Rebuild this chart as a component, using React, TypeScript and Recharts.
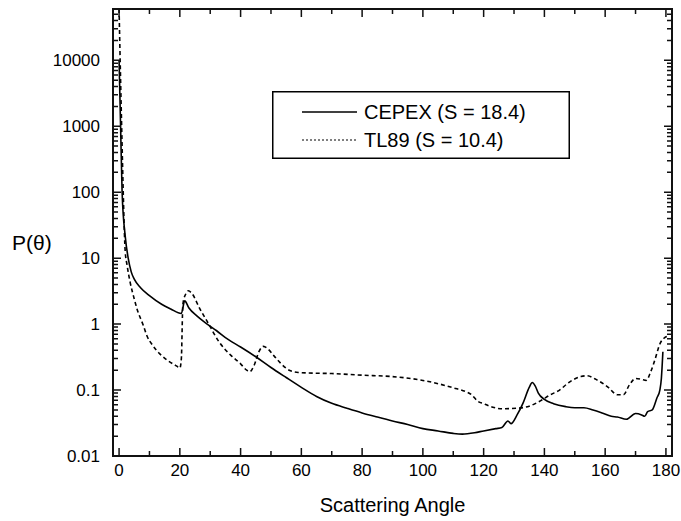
import React from 'react';
import { LineChart, Line, XAxis, YAxis, Legend } from 'recharts';

// CEPEX phase function (solid)
const cepexAngle = [0, 0.5, 1, 2, 3, 4, 5, 7, 10, 14, 17, 20.5, 21.6, 23, 25.6, 29, 32, 36, 40, 45, 50, 55, 60, 65, 70, 75, 80, 85, 90, 95, 100, 105, 110, 113, 117, 120, 124, 126, 128, 129, 131, 133, 135, 136, 137, 138, 140, 143, 147, 150, 153, 156, 159, 162, 164, 167, 170, 172, 173, 174, 175.5, 177, 178, 178.5, 179];
const cepexValue = [10000, 1000, 100, 22, 10, 6.2, 4.8, 3.6, 2.7, 2.0, 1.7, 1.45, 2.25, 1.75, 1.33, 1.0, 0.8, 0.58, 0.45, 0.32, 0.22, 0.155, 0.11, 0.08, 0.063, 0.053, 0.045, 0.039, 0.034, 0.03, 0.026, 0.024, 0.022, 0.0215, 0.0225, 0.024, 0.026, 0.027, 0.034, 0.031, 0.042, 0.064, 0.11, 0.13, 0.115, 0.09, 0.072, 0.062, 0.056, 0.054, 0.054, 0.05, 0.045, 0.04, 0.039, 0.036, 0.044, 0.042, 0.04, 0.047, 0.05, 0.075, 0.1, 0.15, 0.38];

// TL89 phase function (dashed)
const tl89Angle = [0, 0.5, 1, 1.5, 2, 2.6, 3.6, 5, 5.9, 8, 9.2, 11, 13.5, 16, 19, 20, 20.5, 21, 22, 22.8, 24, 26.6, 29, 33, 37, 40, 42, 43, 44.5, 46, 47.5, 49, 51, 53, 56, 59, 65, 70, 80, 90, 100, 105, 110, 114, 116, 118, 120, 123, 126, 131, 135, 139, 142, 145, 148, 152, 154, 157, 161, 164, 166, 168, 170, 172, 173.5, 175, 176.5, 178, 179.5, 181];
const tl89Value = [60000, 5000, 500, 60, 13, 8, 4.4, 2.4, 1.7, 0.95, 0.66, 0.48, 0.35, 0.28, 0.23, 0.215, 0.3, 2.0, 2.9, 3.2, 2.9, 1.7, 1.1, 0.53, 0.33, 0.25, 0.2, 0.19, 0.24, 0.38, 0.46, 0.42, 0.33, 0.26, 0.2, 0.185, 0.18, 0.178, 0.168, 0.16, 0.14, 0.125, 0.108, 0.095, 0.085, 0.068, 0.062, 0.055, 0.052, 0.053, 0.057, 0.07, 0.085, 0.1, 0.13, 0.16, 0.165, 0.145, 0.11, 0.085, 0.085, 0.12, 0.15, 0.145, 0.14, 0.19, 0.3, 0.5, 0.62, 0.66];

const xTicks = [0, 10, 20, 30, 40, 50, 60, 70, 80, 90, 100, 110, 120, 130, 140, 150, 160, 170, 180];
const xLabelStep = 20;
const yMajorTicks = [0.01, 0.1, 1, 10, 100, 1000, 10000];
const yMinorFactors = [2, 3, 4, 5, 6, 7, 8, 9];

const X_DOMAIN = [-2, 182];
const Y_DOMAIN = [0.01, 60000];

const yTicks: number[] = [];
yMajorTicks.forEach((d) => {
    yTicks.push(d);
    yMinorFactors.forEach((f) => {
        if (d * f < Y_DOMAIN[1]) yTicks.push(d * f);
    });
});

const cepexData = cepexAngle.map((a, i) => ({ angle: a, value: cepexValue[i] }));
const tl89Data = tl89Angle.map((a, i) => ({ angle: a, value: tl89Value[i] }));

const FONT = 'Liberation Sans, Arial, Helvetica, sans-serif';
const INK = '#111';
const W = 681;
const H = 521;

// plot box, from the axis sizes below
const PLOT = { left: 113, top: 9, right: 672, bottom: 456 };

const isMajorY = (v: number) => yMajorTicks.includes(v);

// same mapping as the chart's linear x / log y axes, used for the inward tick marks
const px = (v: number) => PLOT.left + ((v - X_DOMAIN[0]) / (X_DOMAIN[1] - X_DOMAIN[0])) * (PLOT.right - PLOT.left);
const py = (v: number) =>
    PLOT.top + ((Math.log10(Y_DOMAIN[1]) - Math.log10(v)) / (Math.log10(Y_DOMAIN[1]) - Math.log10(Y_DOMAIN[0]))) * (PLOT.bottom - PLOT.top);

const BottomTick = (props: any) => {
    const { x, y, payload } = props;
    const v = payload.value;
    if (v % xLabelStep !== 0) return <g />;
    return (
        <text x={x} y={y + 20} textAnchor="middle" fontSize={17} fontFamily={FONT} fill="#000">{v}</text>
    );
};

const LeftTick = (props: any) => {
    const { x, y, payload } = props;
    const v = payload.value;
    if (!isMajorY(v)) return <g />;
    return (
        <text x={x - 13} y={y + 6} textAnchor="end" fontSize={17} fontFamily={FONT} fill="#000">{String(v)}</text>
    );
};

const LegendBox = () => (
    <svg width={298} height={68} style={{ display: 'block' }}>
        <rect x={0.75} y={0.75} width={296.5} height={66.5} fill="#fff" stroke="#000" strokeWidth={1.5} />
        <line x1={30} y1={21} x2={85} y2={21} stroke="#000" strokeWidth={1.5} />
        <text x={92} y={28} fontSize={20} fontFamily={FONT} fill="#000">CEPEX (S = 18.4)</text>
        <line x1={30} y1={49} x2={85} y2={49} stroke="#000" strokeWidth={1.2} strokeDasharray="2 2" />
        <text x={92} y={56} fontSize={20} fontFamily={FONT} fill="#000">TL89 (S = 10.4)</text>
    </svg>
);

export default function App() {
    return (
        <div style={{ position: 'absolute', left: 0, top: 0, width: W, height: H }}>
            <LineChart width={W} height={H} margin={{ top: PLOT.top, right: W - PLOT.right, bottom: 0, left: 0 }}>
                <XAxis
                    xAxisId="bottom"
                    dataKey="angle"
                    type="number"
                    domain={X_DOMAIN}
                    ticks={xTicks}
                    interval={0}
                    allowDataOverflow
                    height={H - PLOT.bottom}
                    tickSize={0}
                    tickMargin={0}
                    tickLine={false}
                    axisLine={false}
                    tick={BottomTick}
                    label={{ value: 'Scattering Angle', position: 'insideBottom', offset: 9, fontSize: 20, fontFamily: FONT, fill: '#000' }}
                />
                <YAxis
                    yAxisId="left"
                    type="number"
                    scale="log"
                    domain={Y_DOMAIN}
                    ticks={yTicks}
                    interval={0}
                    allowDataOverflow
                    width={PLOT.left}
                    tickSize={0}
                    tickMargin={0}
                    tickLine={false}
                    axisLine={false}
                    tick={LeftTick}
                    label={{ value: 'P(θ)', position: 'insideLeft', offset: 12, dy: 10, fontSize: 21, fontFamily: FONT, fill: '#000' }}
                />
                <Legend
                    layout="horizontal"
                    verticalAlign="middle"
                    align="center"
                    width={298}
                    height={68}
                    content={LegendBox}
                    wrapperStyle={{ left: 272, top: 91, width: 298, height: 68 }}
                />
                <Line
                    xAxisId="bottom"
                    yAxisId="left"
                    data={cepexData}
                    dataKey="value"
                    name="CEPEX (S = 18.4)"
                    type="monotone"
                    stroke="#000"
                    strokeWidth={1.6}
                    dot={false}
                    isAnimationActive={false}
                />
                <Line
                    xAxisId="bottom"
                    yAxisId="left"
                    data={tl89Data}
                    dataKey="value"
                    name="TL89 (S = 10.4)"
                    type="monotone"
                    stroke="#000"
                    strokeWidth={1.6}
                    strokeDasharray="4 3"
                    dot={false}
                    isAnimationActive={false}
                />
            </LineChart>
            {/* frame and inward tick marks on all four sides */}
            <svg width={W} height={H} style={{ position: 'absolute', left: 0, top: 0, pointerEvents: 'none' }}>
                <path
                    d={`M${PLOT.left},${PLOT.top}H${PLOT.right}V${PLOT.bottom}H${PLOT.left}Z`}
                    fill="none"
                    stroke={INK}
                    strokeWidth={2}
                />
                {xTicks.map((v) => {
                    const len = v % xLabelStep === 0 ? 8 : 5;
                    const x = px(v);
                    return (
                        <path
                            key={`x${v}`}
                            d={`M${x},${PLOT.bottom}v${-len}M${x},${PLOT.top}v${len}`}
                            fill="none"
                            stroke={INK}
                            strokeWidth={1.5}
                        />
                    );
                })}
                {yTicks.map((v, i) => {
                    const len = isMajorY(v) ? 8 : 5;
                    const y = py(v);
                    return (
                        <path
                            key={`y${i}`}
                            d={`M${PLOT.left},${y}h${len}M${PLOT.right},${y}h${-len}`}
                            fill="none"
                            stroke={INK}
                            strokeWidth={1.5}
                        />
                    );
                })}
            </svg>
        </div>
    );
}
